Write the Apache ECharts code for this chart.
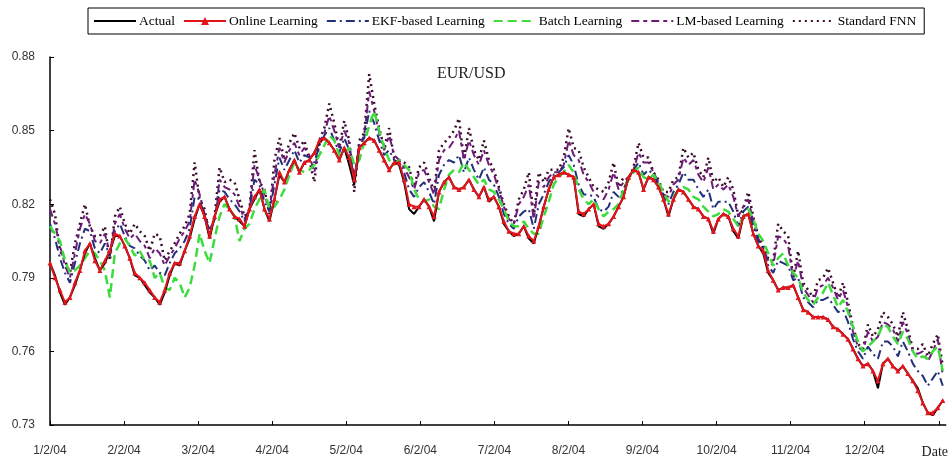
<!DOCTYPE html>
<html>
<head>
<meta charset="utf-8">
<script src="https://cdn.jsdelivr.net/npm/echarts@6/dist/echarts.min.js"></script>
<style>html,body{margin:0;padding:0;background:#fff}#c{width:951px;height:461px}</style>
</head>
<body>
<div id="c"></div>
<script>
// x ticks: month starts (15 trading-day samples per month)
const tickLabels = ['1/2/04','2/2/04','3/2/04','4/2/04','5/2/04','6/2/04','7/2/04','8/2/04','9/2/04','10/2/04','11/2/04','12/2/04','Date'];
const yTicks = [0.73, 0.76, 0.79, 0.82, 0.85, 0.88];
const seriesNames = ['Actual','Online Learning','EKF-based Learning','Batch Learning','LM-based Learning','Standard FNN'];

const actual = [
0.796,0.791,0.784,0.779,0.782,0.787,0.793,0.800,0.804,0.798,
0.793,0.796,0.801,0.807,0.807,0.803,0.798,0.791,0.790,0.787,
0.784,0.782,0.779,0.784,0.791,0.796,0.795,0.801,0.806,0.814,
0.820,0.815,0.806,0.815,0.821,0.823,0.818,0.815,0.813,0.811,
0.818,0.822,0.826,0.818,0.813,0.822,0.832,0.829,0.834,0.838,
0.833,0.837,0.838,0.841,0.845,0.847,0.845,0.842,0.838,0.843,
0.836,0.828,0.843,0.845,0.847,0.846,0.842,0.838,0.834,0.837,
0.836,0.829,0.818,0.816,0.819,0.822,0.819,0.813,0.825,0.829,
0.831,0.827,0.826,0.827,0.830,0.826,0.823,0.827,0.821,0.823,
0.819,0.812,0.809,0.807,0.808,0.811,0.806,0.804,0.811,0.819,
0.826,0.831,0.832,0.833,0.832,0.831,0.816,0.815,0.818,0.820,
0.811,0.810,0.812,0.815,0.819,0.823,0.831,0.834,0.833,0.826,
0.831,0.830,0.827,0.822,0.815,0.822,0.826,0.825,0.822,0.819,
0.818,0.815,0.814,0.808,0.814,0.816,0.815,0.809,0.806,0.815,
0.816,0.808,0.803,0.800,0.792,0.789,0.785,0.786,0.786,0.787,
0.782,0.777,0.776,0.774,0.774,0.774,0.773,0.770,0.769,0.767,
0.765,0.761,0.757,0.754,0.755,0.752,0.745,0.755,0.757,0.754,
0.752,0.754,0.751,0.748,0.745,0.739,0.735,0.734,0.737,0.740
];

const online = [
0.796,0.790,0.785,0.780,0.782,0.788,0.793,0.801,0.804,0.797,
0.793,0.797,0.801,0.808,0.807,0.803,0.798,0.792,0.790,0.788,
0.785,0.782,0.780,0.785,0.792,0.796,0.796,0.801,0.807,0.815,
0.820,0.815,0.807,0.815,0.822,0.823,0.818,0.815,0.814,0.811,
0.818,0.823,0.826,0.818,0.814,0.822,0.833,0.829,0.834,0.838,
0.833,0.837,0.838,0.841,0.846,0.847,0.845,0.842,0.838,0.843,
0.839,0.830,0.843,0.845,0.847,0.846,0.842,0.838,0.834,0.837,
0.837,0.830,0.820,0.819,0.819,0.822,0.819,0.815,0.825,0.829,
0.831,0.827,0.826,0.827,0.830,0.826,0.823,0.827,0.822,0.823,
0.819,0.813,0.809,0.808,0.808,0.811,0.807,0.805,0.811,0.819,
0.826,0.831,0.832,0.833,0.832,0.831,0.817,0.816,0.818,0.820,
0.812,0.811,0.812,0.815,0.819,0.823,0.831,0.834,0.833,0.826,
0.831,0.830,0.827,0.822,0.816,0.822,0.826,0.825,0.822,0.819,
0.818,0.815,0.814,0.809,0.814,0.816,0.815,0.810,0.807,0.815,
0.816,0.808,0.803,0.801,0.793,0.789,0.785,0.786,0.786,0.787,
0.782,0.777,0.776,0.774,0.774,0.774,0.773,0.770,0.769,0.767,
0.765,0.761,0.757,0.754,0.755,0.752,0.748,0.755,0.757,0.754,
0.752,0.754,0.751,0.748,0.744,0.739,0.735,0.735,0.737,0.740
];

const ekf = [
0.812,0.806,0.798,0.792,0.788,0.796,0.804,0.810,0.809,0.802,
0.800,0.804,0.799,0.809,0.812,0.807,0.803,0.802,0.799,0.797,
0.793,0.795,0.792,0.791,0.796,0.800,0.802,0.805,0.810,0.823,
0.822,0.815,0.809,0.814,0.826,0.825,0.822,0.820,0.817,0.813,
0.818,0.830,0.828,0.821,0.817,0.828,0.839,0.834,0.838,0.842,
0.837,0.840,0.839,0.837,0.844,0.848,0.851,0.846,0.841,0.847,
0.842,0.831,0.844,0.847,0.858,0.853,0.846,0.840,0.842,0.838,
0.837,0.833,0.826,0.823,0.827,0.829,0.825,0.820,0.832,0.836,
0.838,0.837,0.840,0.833,0.839,0.834,0.830,0.835,0.830,0.828,
0.823,0.816,0.812,0.810,0.815,0.817,0.818,0.810,0.820,0.824,
0.829,0.832,0.833,0.835,0.840,0.836,0.828,0.824,0.824,0.823,
0.818,0.817,0.819,0.825,0.823,0.826,0.831,0.834,0.837,0.832,
0.834,0.832,0.828,0.823,0.820,0.825,0.828,0.833,0.830,0.830,
0.826,0.823,0.826,0.818,0.821,0.821,0.821,0.817,0.811,0.817,
0.819,0.811,0.805,0.802,0.795,0.792,0.797,0.796,0.795,0.789,
0.790,0.782,0.780,0.778,0.781,0.781,0.782,0.779,0.776,0.777,
0.772,0.765,0.760,0.757,0.762,0.759,0.757,0.764,0.764,0.762,
0.758,0.764,0.760,0.755,0.752,0.750,0.746,0.749,0.752,0.746
];

const batch = [
0.811,0.808,0.805,0.797,0.792,0.793,0.795,0.798,0.801,0.800,
0.797,0.793,0.782,0.800,0.804,0.806,0.803,0.799,0.801,0.797,
0.797,0.790,0.792,0.786,0.785,0.790,0.788,0.782,0.786,0.795,
0.808,0.801,0.796,0.806,0.815,0.820,0.818,0.815,0.805,0.810,
0.812,0.818,0.822,0.826,0.818,0.819,0.822,0.826,0.832,0.837,
0.834,0.833,0.834,0.836,0.840,0.844,0.848,0.846,0.840,0.841,
0.843,0.836,0.838,0.845,0.852,0.858,0.850,0.843,0.838,0.836,
0.838,0.836,0.834,0.826,0.822,0.821,0.822,0.819,0.818,0.826,
0.832,0.834,0.833,0.837,0.834,0.831,0.828,0.830,0.826,0.825,
0.822,0.818,0.813,0.811,0.811,0.813,0.810,0.808,0.808,0.815,
0.821,0.828,0.831,0.833,0.836,0.833,0.826,0.822,0.820,0.822,
0.818,0.815,0.817,0.818,0.820,0.826,0.830,0.833,0.835,0.831,
0.830,0.832,0.829,0.825,0.821,0.823,0.826,0.827,0.826,0.823,
0.822,0.819,0.817,0.815,0.816,0.818,0.817,0.814,0.811,0.815,
0.818,0.814,0.808,0.805,0.800,0.795,0.798,0.800,0.795,0.792,
0.790,0.784,0.781,0.779,0.782,0.784,0.788,0.783,0.778,0.781,
0.776,0.770,0.764,0.760,0.762,0.764,0.766,0.771,0.770,0.766,
0.763,0.768,0.765,0.760,0.757,0.758,0.757,0.760,0.762,0.752
];

const lm = [
0.818,0.812,0.803,0.795,0.790,0.800,0.810,0.816,0.812,0.805,
0.804,0.808,0.800,0.812,0.816,0.810,0.806,0.808,0.805,0.803,
0.798,0.802,0.800,0.795,0.799,0.802,0.806,0.809,0.813,0.830,
0.824,0.816,0.810,0.813,0.830,0.827,0.826,0.824,0.819,0.814,
0.818,0.836,0.830,0.824,0.818,0.832,0.843,0.837,0.842,0.845,
0.840,0.843,0.840,0.833,0.845,0.849,0.856,0.850,0.843,0.850,
0.845,0.830,0.844,0.848,0.866,0.858,0.849,0.842,0.848,0.840,
0.838,0.835,0.831,0.826,0.833,0.834,0.829,0.824,0.838,0.842,
0.843,0.846,0.850,0.838,0.846,0.840,0.836,0.842,0.836,0.832,
0.826,0.819,0.814,0.812,0.820,0.823,0.828,0.814,0.829,0.827,
0.831,0.833,0.833,0.836,0.846,0.840,0.838,0.832,0.829,0.825,
0.823,0.822,0.826,0.833,0.826,0.829,0.831,0.834,0.841,0.837,
0.837,0.833,0.829,0.824,0.823,0.828,0.830,0.839,0.836,0.838,
0.832,0.829,0.835,0.826,0.828,0.826,0.828,0.823,0.815,0.819,
0.822,0.813,0.806,0.802,0.797,0.795,0.807,0.806,0.803,0.790,
0.797,0.786,0.783,0.780,0.786,0.787,0.790,0.786,0.781,0.785,
0.778,0.768,0.762,0.760,0.768,0.764,0.766,0.772,0.771,0.769,
0.764,0.772,0.767,0.760,0.759,0.760,0.756,0.760,0.765,0.750
];

const fnn = [
0.822,0.816,0.801,0.797,0.792,0.804,0.812,0.820,0.811,0.807,
0.807,0.811,0.797,0.815,0.819,0.812,0.808,0.812,0.809,0.807,
0.801,0.808,0.807,0.797,0.801,0.804,0.808,0.811,0.816,0.837,
0.822,0.818,0.807,0.815,0.835,0.829,0.830,0.829,0.822,0.815,
0.818,0.842,0.829,0.826,0.816,0.838,0.847,0.838,0.845,0.849,
0.843,0.846,0.838,0.829,0.846,0.851,0.861,0.853,0.843,0.854,
0.846,0.825,0.846,0.849,0.873,0.861,0.851,0.843,0.851,0.839,
0.838,0.837,0.835,0.827,0.835,0.837,0.831,0.825,0.842,0.845,
0.847,0.850,0.855,0.838,0.851,0.842,0.838,0.846,0.838,0.834,
0.827,0.820,0.815,0.812,0.822,0.826,0.833,0.815,0.833,0.829,
0.834,0.834,0.834,0.839,0.851,0.843,0.842,0.835,0.831,0.827,
0.826,0.825,0.829,0.837,0.827,0.831,0.830,0.835,0.845,0.839,
0.839,0.833,0.830,0.825,0.825,0.830,0.831,0.843,0.839,0.841,
0.834,0.831,0.839,0.829,0.831,0.827,0.831,0.826,0.815,0.818,
0.825,0.815,0.807,0.803,0.798,0.797,0.812,0.809,0.807,0.790,
0.801,0.788,0.785,0.782,0.789,0.790,0.794,0.788,0.782,0.788,
0.780,0.770,0.763,0.761,0.771,0.766,0.769,0.776,0.774,0.771,
0.766,0.776,0.769,0.761,0.761,0.763,0.758,0.763,0.767,0.754
];

const MONTH = 14.85;
const toPairs = arr => arr.map((v, i) => [i, v]);

const chart = echarts.init(document.getElementById('c'), null, {renderer: 'canvas'});
const serif = 'Liberation Serif, Times New Roman, serif';
const sans = 'Liberation Sans, Arial, sans-serif';
const hidden = {color: 'rgba(0,0,0,0)', borderColor: 'rgba(0,0,0,0)', borderWidth: 0};

chart.setOption({
  animation: false,
  backgroundColor: '#fff',
  title: {
    text: 'EUR/USD', left: 437, top: 66, padding: 0,
    textStyle: {fontFamily: serif, fontSize: 16, fontWeight: 'normal', color: '#222'}
  },
  legend: {
    data: seriesNames.map(n => n === 'Online Learning'
      ? {name: n}
      : {name: n, itemStyle: hidden}),
    left: 88, top: 8,
    itemWidth: 42, itemHeight: 10, itemGap: 8,
    borderColor: '#000', borderWidth: 1, borderRadius: 0,
    padding: [6, 8, 6, 5],
    textStyle: {fontFamily: serif, fontSize: 13.5, color: '#000', padding: [0, 0, 0, -2]}
  },
  grid: {left: 50, right: 3, top: 57, bottom: 36, containLabel: false},
  xAxis: {
    type: 'value', min: 0, max: 179.6, interval: MONTH,
    axisLine: {show: true, lineStyle: {color: '#000', width: 1.5}},
    axisTick: {show: true, inside: true, length: 4, lineStyle: {color: '#000'}},
    splitLine: {show: false},
    axisLabel: {
      margin: 20, color: '#333', fontFamily: sans, fontSize: 12,
      formatter: v => {
        const k = Math.round(v / MONTH);
        const t = tickLabels[k] || '';
        return t === 'Date' ? '{d|Date}' : t;
      },
      rich: {d: {fontFamily: serif, fontSize: 14, color: '#222', padding: [0, 8, 0, 0]}}
    }
  },
  yAxis: {
    type: 'value', min: yTicks[0], max: yTicks[yTicks.length - 1], interval: 0.03,
    axisLine: {show: true, lineStyle: {color: '#000', width: 1.5}},
    axisTick: {show: true, inside: true, length: 4, lineStyle: {color: '#000'}},
    splitLine: {show: false},
    axisLabel: {margin: 15, color: '#333', fontFamily: sans, fontSize: 12, formatter: v => v.toFixed(2)}
  },
  series: [
    {name: 'Standard FNN', type: 'line', data: toPairs(fnn), symbol: 'none', z: 1,
      lineStyle: {color: '#3a0c2c', width: 2.5, type: [2, 4]}, itemStyle: {color: '#3a0c2c'}},
    {name: 'LM-based Learning', type: 'line', data: toPairs(lm), symbol: 'none', z: 2,
      lineStyle: {color: '#6e1a78', width: 2, type: [8, 4, 4, 4]}, itemStyle: {color: '#6e1a78'}},
    {name: 'EKF-based Learning', type: 'line', data: toPairs(ekf), symbol: 'none', z: 3,
      lineStyle: {color: '#22307a', width: 2, type: [9, 4, 2, 4]}, itemStyle: {color: '#22307a'}},
    {name: 'Batch Learning', type: 'line', data: toPairs(batch), symbol: 'none', z: 4,
      lineStyle: {color: '#3ddc3d', width: 2.5, type: [9, 5]}, itemStyle: {color: '#3ddc3d'}},
    {name: 'Actual', type: 'line', data: toPairs(actual), symbol: 'none', z: 5,
      lineStyle: {color: '#000', width: 2}, itemStyle: {color: '#000'}},
    {name: 'Online Learning', type: 'line', data: toPairs(online), symbol: 'triangle', symbolSize: 5, z: 6,
      showAllSymbol: true,
      lineStyle: {color: '#e3141c', width: 2}, itemStyle: {color: '#e3141c'}}
  ]
});
</script>
</body>
</html>
